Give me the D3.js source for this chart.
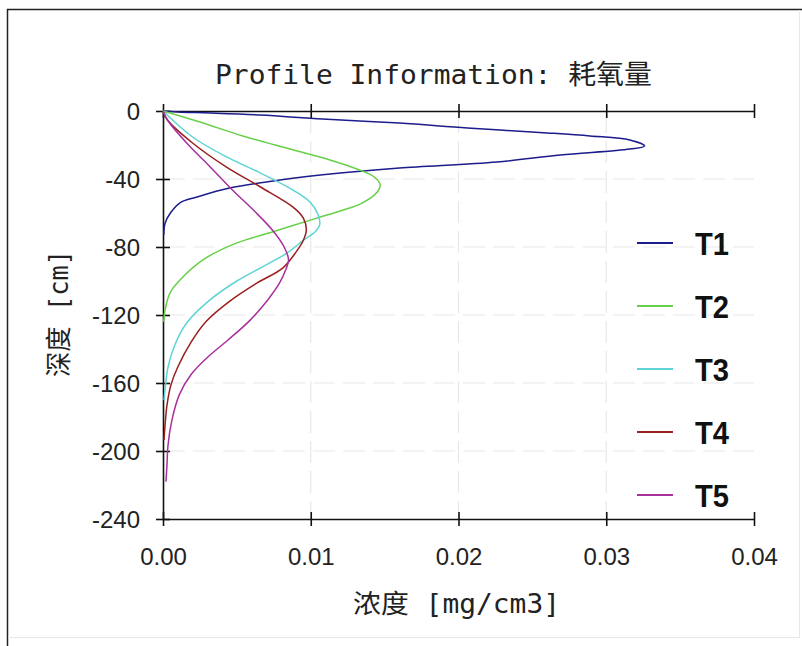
<!DOCTYPE html>
<html>
<head>
<meta charset="utf-8">
<script src="https://cdn.jsdelivr.net/npm/d3@7"></script>
<style>
  html, body { margin: 0; padding: 0; background: #fff; }
  svg { display: block; }
</style>
</head>
<body>
<svg id="chart" width="802" height="646"></svg>
<script>
// ---- data (concentration mg/cm3 vs depth cm) ----
const seriesNames = ["T1", "T2", "T3", "T4", "T5"];
const seriesColors = ["#1c1c8c", "#66d048", "#5ed4d4", "#9a1f1f", "#a8309c"];

const t1Conc  = [0, 0.001, 0.0032, 0.0066, 0.0108, 0.016, 0.0206, 0.026, 0.0289, 0.0316, 0.0326, 0.0316, 0.0269, 0.0226, 0.016, 0.012, 0.0079, 0.0045, 0.0023, 0.00115, 0.0005, 0.00014, 0.00005];
const t1Depth = [0, 0.6, 1.2, 2.4, 4.7, 7.1, 10, 12.9, 14.7, 17, 20.6, 22.4, 25.9, 30, 33.5, 36.5, 40.6, 45.3, 50.6, 54, 60, 66, 73];

const t2Conc  = [0, 0.0025, 0.0054, 0.0086, 0.0113, 0.0133, 0.0143, 0.0147, 0.0145, 0.0135, 0.012, 0.0104, 0.0074, 0.005, 0.0027, 0.00115, 0.0005, 0.00014, 0.00005];
const t2Depth = [0, 6.5, 14.7, 22.4, 28.8, 34.7, 38.8, 43.5, 47.6, 54, 58.8, 63, 71.2, 77.6, 87.6, 99.4, 106.5, 117, 124];

const t3Conc  = [0, 0.002, 0.0043, 0.0066, 0.0088, 0.00995, 0.0105, 0.0106, 0.0103, 0.0095, 0.0084, 0.0067, 0.005, 0.0032, 0.0016, 0.0008, 0.00034, 0.00014, 0.00007];
const t3Depth = [0, 15.3, 27, 36.5, 46.5, 53.5, 61, 67, 71, 76, 83.5, 91.8, 100, 111, 124.7, 137.6, 150.6, 164, 170];

const t4Conc  = [0, 0.0003, 0.002, 0.0043, 0.0066, 0.0088, 0.0095, 0.0097, 0.0095, 0.009, 0.0081, 0.0064, 0.0045, 0.0029, 0.0019, 0.001, 0.00054, 0.00027, 0.00014, 0.00007];
const t4Depth = [0, 5.3, 18.8, 33, 44.7, 56.5, 63, 70, 76, 83, 92.4, 101, 112, 124, 136, 150.6, 161, 173, 184.7, 193.5];

const t5Conc  = [0, 0.0003, 0.0016, 0.0031, 0.0047, 0.0062, 0.0074, 0.0082, 0.0085, 0.0083, 0.0079, 0.0071, 0.0059, 0.0044, 0.003, 0.0019, 0.0011, 0.0006, 0.00034, 0.00027, 0.0002];
const t5Depth = [0, 5.3, 18.8, 32, 46.5, 59, 70, 80, 87.6, 93.5, 101, 111, 123, 134.7, 145, 155, 167, 182, 196.5, 208, 218];

const xTicks = [0, 0.01, 0.02, 0.03, 0.04];
const yTicks = [0, -40, -80, -120, -160, -200, -240];

const titleText = "Profile Information: 耗氧量";
const xLabelText = "浓度 [mg/cm3]";
const yLabelText = "深度 [cm]";

// ---- build ----
const seriesConc = [t1Conc, t2Conc, t3Conc, t4Conc, t5Conc];
const seriesDepth = [t1Depth, t2Depth, t3Depth, t4Depth, t5Depth];
const series = seriesNames.map((name, i) => ({
  name, color: seriesColors[i],
  points: seriesConc[i].map((c, j) => ({ c, d: -seriesDepth[i][j] }))
}));

const svg = d3.select("#chart");
const pLeft = 163, pRight = 754, pTop = 111, pBottom = 519;

const x = d3.scaleLinear().domain([0, 0.04]).range([pLeft, pRight]);
const y = d3.scaleLinear().domain([0, -240]).range([pTop, pBottom]);

// frame
svg.append("rect").attr("x", 0).attr("y", 0).attr("width", 802).attr("height", 646).attr("fill", "#fff");
svg.append("line").attr("x1", 7.5).attr("x2", 7.5).attr("y1", 9).attr("y2", 646).attr("stroke", "#222").attr("stroke-width", 1.5);
svg.append("line").attr("x1", 7).attr("x2", 802).attr("y1", 9.5).attr("y2", 9.5).attr("stroke", "#222").attr("stroke-width", 1.5);
svg.append("line").attr("x1", 8).attr("x2", 800).attr("y1", 637.5).attr("y2", 637.5).attr("stroke", "#e8e8e8").attr("stroke-width", 1);
svg.append("line").attr("x1", 799.5).attr("x2", 799.5).attr("y1", 10).attr("y2", 637).attr("stroke", "#e8e8e8").attr("stroke-width", 1);

// faint grid
const grid = svg.append("g").attr("stroke", "#e8e8e8").attr("stroke-width", 1.2).attr("stroke-dasharray", "22,8");
grid.selectAll(".gy").data(yTicks.slice(1, -1)).join("line")
  .attr("x1", pLeft).attr("x2", pRight).attr("y1", d => y(d)).attr("y2", d => y(d));
grid.selectAll(".gx").data(xTicks.slice(1, -1)).join("line")
  .attr("y1", pTop).attr("y2", pBottom).attr("x1", d => x(d)).attr("x2", d => x(d));

// axes
function styleAxis(g) {
  g.select(".domain").attr("stroke", "#111").attr("stroke-width", 1.6);
  g.selectAll(".tick line").attr("stroke", "#111").attr("stroke-width", 1.6);
}
const xAxisB = d3.axisBottom(x).tickValues(xTicks).tickFormat(d3.format(".2f")).tickSize(7).tickSizeOuter(0);
const gxB = svg.append("g").attr("transform", `translate(0,${pBottom})`).call(xAxisB);
styleAxis(gxB);
gxB.selectAll(".tick line").attr("y1", -7).attr("y2", 7);
gxB.selectAll(".tick text")
  .attr("y", 46).attr("dy", 0)
  .attr("font-family", "Liberation Sans, Arial, sans-serif").attr("font-size", 24).attr("fill", "#222");

const xAxisT = d3.axisTop(x).tickValues(xTicks).tickFormat("").tickSize(7).tickSizeOuter(0);
const gxT = svg.append("g").attr("transform", `translate(0,${pTop})`).call(xAxisT);
styleAxis(gxT);
gxT.selectAll(".tick line").attr("y1", -7).attr("y2", 7);

const yAxis = d3.axisLeft(y).tickValues(yTicks).tickFormat(d => String(d)).tickSize(7).tickSizeOuter(0);
const gy = svg.append("g").attr("transform", `translate(${pLeft},0)`).call(yAxis);
styleAxis(gy);
gy.selectAll(".tick line").attr("x1", -7).attr("x2", 7);
gy.selectAll(".tick text")
  .attr("x", -23).attr("dy", "0.36em")
  .attr("font-family", "Liberation Sans, Arial, sans-serif").attr("font-size", 24).attr("fill", "#222");

// lines
const line = d3.line().x(p => x(p.c)).y(p => y(p.d)).curve(d3.curveCatmullRom.alpha(0.5));
svg.append("g").selectAll("path").data(series).join("path")
  .attr("d", s => line(s.points))
  .attr("fill", "none").attr("stroke", s => s.color).attr("stroke-width", 1.5);

// legend
const legendY = d3.scalePoint().domain(seriesNames).range([243, 495]);
const lg = svg.append("g");
const items = lg.selectAll("g").data(series).join("g")
  .attr("transform", s => `translate(0,${legendY(s.name)})`);
items.append("line").attr("x1", 637).attr("x2", 673).attr("y1", 0).attr("y2", 0)
  .attr("stroke", s => s.color).attr("stroke-width", 1.8);
items.append("text").attr("x", 695).attr("y", 12)
  .attr("font-family", "Liberation Sans, Arial, sans-serif").attr("font-weight", "bold").attr("font-size", 32)
  .attr("textLength", 34).attr("lengthAdjust", "spacingAndGlyphs")
  .attr("fill", "#111").text(s => s.name);

// title and axis labels
const monoFont = "'DejaVu Sans Mono', 'Noto Sans CJK SC', monospace";
svg.append("text").attr("x", 215).attr("y", 84)
  .attr("font-family", monoFont).attr("font-size", 27).attr("fill", "#222")
  .attr("textLength", 437).attr("lengthAdjust", "spacingAndGlyphs")
  .text(titleText);

svg.append("text").attr("x", 353).attr("y", 613)
  .attr("font-family", monoFont).attr("font-size", 26).attr("fill", "#222")
  .attr("textLength", 207).attr("lengthAdjust", "spacingAndGlyphs")
  .text(xLabelText);

svg.append("text").attr("transform", "translate(68,377) rotate(-90)")
  .attr("x", 0).attr("y", 0)
  .attr("font-family", monoFont).attr("font-size", 26).attr("fill", "#222")
  .attr("textLength", 127).attr("lengthAdjust", "spacingAndGlyphs")
  .text(yLabelText);
</script>
</body>
</html>
